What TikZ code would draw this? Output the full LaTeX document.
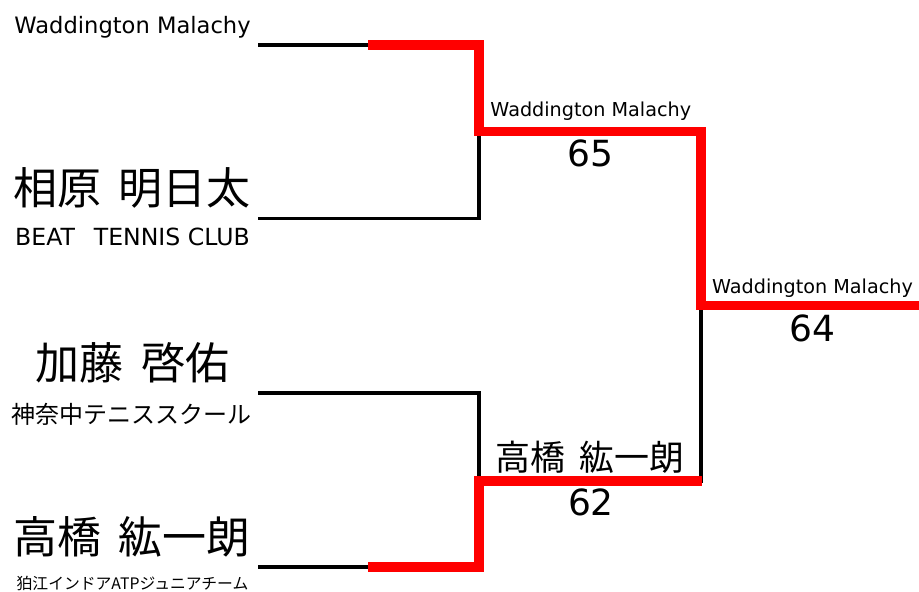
\documentclass[tikz,border=0pt]{standalone}
\usepackage{fontspec}
\setmainfont{DejaVu Sans}
\newfontfamily\cjk[WordSpace=1.8]{Noto Sans CJK JP}
\definecolor{winred}{RGB}{255,0,0}
\tikzset{
  blackline/.style={draw=black,line width=3.5pt,line join=miter,line cap=butt},
  redline/.style={draw=winred,line width=9.5pt,line join=miter,line cap=butt},
  lbl/.style={inner sep=0pt,outer sep=0pt,text=black},
}
\newcommand{\fs}[1]{\fontsize{#1}{#1}\selectfont}
\begin{document}
\begin{tikzpicture}[x=1pt,y=-1pt]
\fill[white] (0,0) rectangle (919,592);
\useasboundingbox (0,0) rectangle (919,592);
% bracket points
\coordinate (A1) at (258,45);
\coordinate (A2) at (479,45);
\coordinate (A3) at (479,218.5);
\coordinate (A4) at (258,218.5);
\coordinate (B1) at (258,393);
\coordinate (B2) at (479,393);
\coordinate (B3) at (479,567);
\coordinate (B4) at (258,567);
\coordinate (C1) at (479,131.5);
\coordinate (C2) at (701,131.5);
\coordinate (C3) at (701,481);
\coordinate (C4) at (479,481);
\coordinate (D1) at (701,305.5);
\coordinate (D2) at (919,305.5);
\coordinate (R1) at (368,45);
\coordinate (R2) at (368,567);
\coordinate (R3) at (702,481);
% black bracket lines
\draw[blackline] (A1) -- (A2) -- (A3) -- (A4);
\draw[blackline] (B1) -- (B2) -- (B3) -- (B4);
\draw[blackline] (C1) -- (C2) -- (C3) -- (C4);
\draw[blackline] (D1) -- (D2);
% winner paths
\draw[redline] (R1) -- (A2) -- (C1) -- (C2) -- (D1) -- (D2);
\draw[redline] (R2) -- (B3) -- (C4) -- (R3);
% left labels
\node[lbl,anchor=base] (t1) at (132.5,33) {\fs{22.6}Waddington Malachy};
\node[lbl] (n1) at (132,188) {\cjk\fs{44}相原 明日太};
\node[lbl,anchor=base] (c1) at (132.5,245) {\fs{23.6}BEAT\hspace{0.8em}TENNIS CLUB};
\node[lbl] (n2) at (132.5,363) {\cjk\fs{44}加藤 啓佑};
\node[lbl] (c2) at (132,414.5) {\cjk\fs{24}神奈中テニススクール};
\node[lbl] (n3) at (132,537) {\cjk\fs{44}高橋 紘一朗};
\node[lbl] (c3) at (132.5,583.5) {\cjk\fs{15.8}狛江インドアATPジュニアチーム};
% round winners and scores
\node[lbl,anchor=base] (w1) at (590.8,116.5) {\fs{19.2}Waddington Malachy};
\node[lbl,anchor=base] (s1) at (590.5,166.7) {\fs{36}65};
\node[lbl] (w2) at (590,457.5) {\cjk\fs{35}高橋 紘一朗};
\node[lbl,anchor=base] (s2) at (591,515) {\fs{36}62};
\node[lbl,anchor=base] (w3) at (812.5,293) {\fs{19.2}Waddington Malachy};
\node[lbl,anchor=base] (s3) at (812.5,341) {\fs{36}64};
\end{tikzpicture}
\end{document}
